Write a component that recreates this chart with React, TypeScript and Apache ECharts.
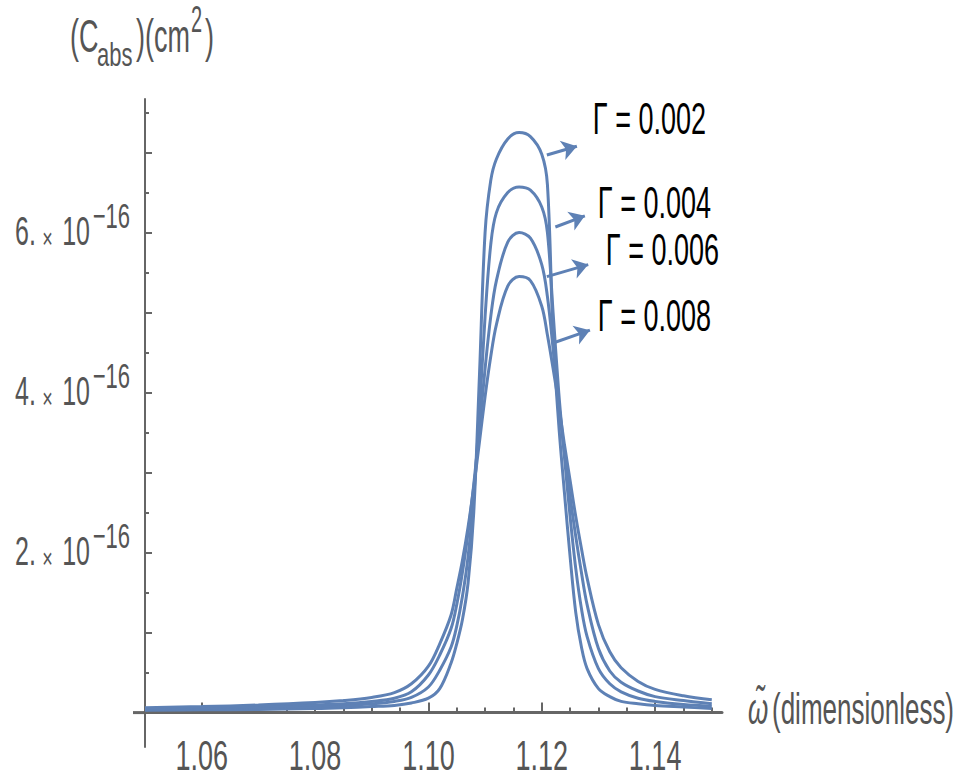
import React, { useEffect, useRef } from "react";
import * as echarts from "echarts";

// ω (dimensionless)
const omega = [
  1.05, 1.06, 1.07, 1.08, 1.085, 1.09, 1.094, 1.097, 1.1, 1.102, 1.104, 1.105, 1.106,
  1.107, 1.108, 1.109, 1.11, 1.111, 1.112, 1.114, 1.116, 1.118, 1.12, 1.121, 1.122,
  1.123, 1.124, 1.125, 1.126, 1.127, 1.128, 1.13, 1.132, 1.134, 1.137, 1.14, 1.145, 1.15,
];
// C_abs in units of 1e-16 cm^2
const cabsG002 = [
  0.03, 0.035, 0.04, 0.05, 0.06, 0.075, 0.09, 0.12, 0.18, 0.3, 0.62, 0.86, 1.16, 1.62,
  2.5, 4.2, 6.0, 6.65, 6.92, 7.17, 7.25, 7.2, 6.98, 6.6, 4.7, 3.6, 2.75, 1.95, 1.25, 0.82,
  0.55, 0.3, 0.2, 0.14, 0.11, 0.09, 0.07, 0.05,
];
const cabsG004 = [
  0.04, 0.05, 0.06, 0.075, 0.09, 0.11, 0.14, 0.19, 0.32, 0.53, 0.82, 1.08, 1.45, 1.95,
  2.7, 3.75, 4.95, 5.85, 6.25, 6.5, 6.57, 6.53, 6.32, 6.0, 5.0, 4.0, 3.2, 2.45, 1.8, 1.3,
  0.95, 0.55, 0.36, 0.26, 0.18, 0.14, 0.1, 0.08,
];
const cabsG006 = [
  0.05, 0.06, 0.075, 0.095, 0.11, 0.14, 0.18, 0.26, 0.47, 0.72, 1.05, 1.35, 1.75, 2.25,
  2.85, 3.55, 4.3, 4.95, 5.4, 5.88, 6.0, 5.93, 5.6, 5.2, 4.55, 3.85, 3.25, 2.7, 2.2, 1.75,
  1.35, 0.8, 0.52, 0.38, 0.27, 0.2, 0.15, 0.11,
];
const cabsG008 = [
  0.06, 0.075, 0.095, 0.125, 0.15, 0.19, 0.25, 0.36, 0.58, 0.86, 1.22, 1.55, 1.9, 2.32,
  2.82, 3.38, 3.95, 4.45, 4.85, 5.33, 5.45, 5.4, 5.08, 4.72, 4.3, 3.85, 3.35, 2.9, 2.45,
  2.05, 1.68, 1.1, 0.76, 0.56, 0.39, 0.29, 0.21, 0.16,
];

const gammaLabels = ["Γ = 0.002", "Γ = 0.004", "Γ = 0.006", "Γ = 0.008"];
const labelAnchors = [
  [1.129, 7.42],
  [1.1299, 6.37],
  [1.1313, 5.78],
  [1.1299, 4.96],
];
const arrowStarts = [
  [1.1209, 6.97],
  [1.1224, 6.07],
  [1.1209, 5.45],
  [1.122, 4.62],
];
const arrowEnds = [
  [1.1262, 7.08],
  [1.1276, 6.21],
  [1.1282, 5.6],
  [1.1285, 4.78],
];

const xTickLabels = [1.06, 1.08, 1.1, 1.12, 1.14];
const xMinorTicks = [
  1.055, 1.065, 1.07, 1.075, 1.085, 1.09, 1.095, 1.105, 1.11, 1.115, 1.125, 1.13, 1.135,
  1.145, 1.15,
];
const yTickLabels = [2, 4, 6]; // × 10^-16
const yMajorTicks = [1, 2, 3, 4, 5, 6, 7];
const yMinorTicks = [0.5, 1.5, 2.5, 3.5, 4.5, 5.5, 6.5, 7.5];

const X_MIN = 1.05;
const X_MAX = 1.1518;
const Y_MIN = -0.43;
const Y_MAX = 7.67;

const BLUE = "#5E81B5";
const AXIS = "#666666";
const LABEL = "#555555";
const FONT = '"Liberation Sans", Arial, sans-serif';

function txt(
  text: string,
  x: number,
  y: number,
  size: number,
  sy: number,
  align: string,
  fill: string = LABEL,
  italic = false
) {
  return {
    type: "text",
    x,
    y,
    scaleY: sy,
    silent: true,
    z: 100,
    style: {
      text,
      fill,
      fontSize: size,
      fontFamily: FONT,
      fontStyle: italic ? "italic" : "normal",
      align,
      textAlign: align,
      verticalAlign: "middle",
      textVerticalAlign: "middle",
    },
  };
}

export default function App() {
  const ref = useRef<HTMLDivElement>(null);

  useEffect(() => {
    const chart = echarts.init(ref.current!, null, { renderer: "svg" });
    const allSeries = [cabsG002, cabsG004, cabsG006, cabsG008];
    const series = allSeries.map((vals, i) => ({
      type: "line",
      name: gammaLabels[i],
      data: omega.map((x, j) => [x, vals[j]]),
      showSymbol: false,
      smooth: 0.35,
      lineStyle: { color: BLUE, width: 3 },
      itemStyle: { color: BLUE },
      emphasis: { disabled: true },
      z: 2,
      markLine: {
        silent: true,
        symbol: ["none", "arrow"],
        symbolSize: 15,
        label: { show: false },
        emphasis: { disabled: true },
        lineStyle: { color: BLUE, width: 3, type: "solid" },
        data: [[{ coord: arrowStarts[i] }, { coord: arrowEnds[i] }]],
      },
    }));

    chart.setOption({
      animation: false,
      grid: { left: 145, right: 242, top: 99, bottom: 33, outerBoundsMode: "none" },
      xAxis: [
        {
          type: "value",
          min: X_MIN,
          max: X_MAX,
          position: "bottom",
          axisLine: { show: true, onZero: true, lineStyle: { color: AXIS, width: 3 } },
          axisTick: {
            show: true,
            inside: true,
            length: 10,
            lineStyle: { color: AXIS, width: 2 },
            customValues: xTickLabels,
          },
          axisLabel: { show: false },
          splitLine: { show: false },
        },
        {
          type: "value",
          min: X_MIN,
          max: X_MAX,
          position: "bottom",
          offset: 0,
          axisLine: { show: true, onZero: true, lineStyle: { color: "rgba(0,0,0,0)", width: 3 } },
          axisTick: {
            show: true,
            inside: true,
            length: 5,
            lineStyle: { color: AXIS, width: 2 },
            customValues: xMinorTicks,
          },
          axisLabel: { show: false },
          splitLine: { show: false },
        },
      ],
      yAxis: [
        {
          type: "value",
          min: Y_MIN,
          max: Y_MAX,
          position: "left",
          axisLine: { show: true, lineStyle: { color: AXIS, width: 2 } },
          axisTick: {
            show: true,
            inside: true,
            length: 7,
            lineStyle: { color: AXIS, width: 2 },
            customValues: yMajorTicks,
          },
          axisLabel: { show: false },
          splitLine: { show: false },
        },
        {
          type: "value",
          min: Y_MIN,
          max: Y_MAX,
          position: "left",
          offset: 0,
          axisLine: { show: true, lineStyle: { color: "rgba(0,0,0,0)", width: 2 } },
          axisTick: {
            show: true,
            inside: true,
            length: 4,
            lineStyle: { color: AXIS, width: 2 },
            customValues: yMinorTicks,
          },
          axisLabel: { show: false },
          splitLine: { show: false },
        },
      ],
      series,
    });

    const toPx = (p: number[]) =>
      chart.convertToPixel({ xAxisIndex: 0, yAxisIndex: 0 }, p) as number[];

    const elements: any[] = [];
    const origin = toPx([X_MIN, 0]);
    const axisTop = toPx([X_MIN, Y_MAX]);
    const axisEnd = toPx([X_MAX, 0]);

    // x-axis line extension to the left of the y axis
    elements.push({
      type: "line",
      silent: true,
      shape: { x1: origin[0] - 12, y1: origin[1], x2: origin[0], y2: origin[1] },
      style: { stroke: AXIS, lineWidth: 3 },
    });

    xTickLabels.forEach((v) => {
      const p = toPx([v, 0]);
      elements.push(txt(v.toFixed(2), p[0], p[1] + 42, 27, 1.6, "center"));
    });

    yTickLabels.forEach((v) => {
      const p = toPx([X_MIN, v]);
      const ax = p[0];
      const ty = p[1];
      elements.push(txt(`${v}.`, ax - 130, ty - 2, 25, 1.65, "left"));
      elements.push(txt("×", ax - 97.5, ty + 6, 18, 1.5, "center"));
      elements.push(txt("10", ax - 55, ty - 2, 25, 1.65, "right"));
      elements.push(txt("−16", ax - 15, ty - 17, 22, 1.6, "right"));
    });

    // y-axis title (C_abs)(cm^2)
    const tx = axisTop[0];
    const tt = axisTop[1];
    elements.push(txt("(C", tx - 75, tt - 63, 27, 1.7, "left"));
    elements.push(txt("abs", tx - 48, tt - 44.5, 22, 1.5, "left"));
    elements.push(txt(")(cm", tx - 9, tt - 63, 27, 1.7, "left"));
    elements.push(txt("2", tx + 46, tt - 79.5, 20, 1.8, "left"));
    elements.push(txt(")", tx + 60, tt - 63, 27, 1.7, "left"));

    // x-axis title
    elements.push(txt("ω̃", axisEnd[0] + 26, axisEnd[1] - 4, 26, 1.68, "left", LABEL, true));
    elements.push(txt("(dimensionless)", axisEnd[0] + 50, axisEnd[1] - 4, 26, 1.68, "left"));

    // Γ labels
    gammaLabels.forEach((g, i) => {
      const p = toPx(labelAnchors[i]);
      elements.push(txt(g, p[0], p[1], 27, 1.65, "left", "#000000"));
    });

    chart.setOption({ graphic: { elements } });

    return () => {
      chart.dispose();
    };
  }, []);

  return (
    <div
      ref={ref}
      style={{ position: "fixed", left: 0, top: 0, width: 964, height: 780, background: "#fff" }}
    />
  );
}
